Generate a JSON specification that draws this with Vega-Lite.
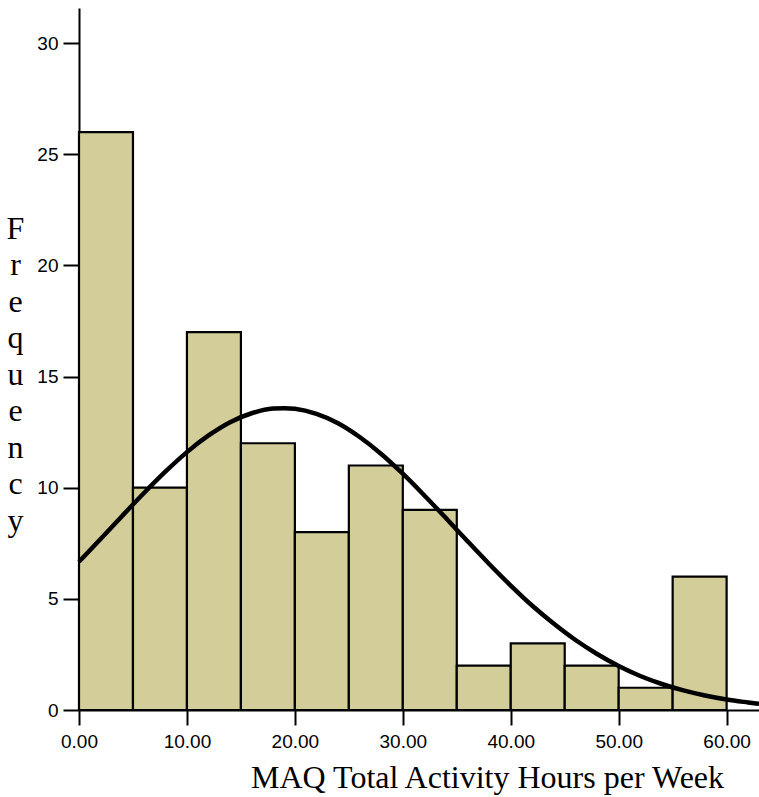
{
  "$schema": "https://vega.github.io/schema/vega-lite/v6.json",
  "width": 680,
  "height": 702,
  "autosize": {"type": "none"},
  "padding": {"left": 79, "top": 8, "right": 0, "bottom": 87},
  "background": "white",
  "config": {
    "view": {"stroke": null},
    "axis": {
      "grid": false,
      "domainColor": "black",
      "domainWidth": 2,
      "tickColor": "black",
      "tickWidth": 2,
      "labelFont": "Liberation Sans",
      "labelFontSize": 19,
      "labelColor": "black",
      "labelFlush": false,
      "titleFont": "Liberation Serif",
      "titleFontSize": 32,
      "titleFontWeight": "normal",
      "titleColor": "black"
    }
  },
  "datasets": {
    "bars": [
      {"lo": 0, "hi": 5, "count": 26},
      {"lo": 5, "hi": 10, "count": 10},
      {"lo": 10, "hi": 15, "count": 17},
      {"lo": 15, "hi": 20, "count": 12},
      {"lo": 20, "hi": 25, "count": 8},
      {"lo": 25, "hi": 30, "count": 11},
      {"lo": 30, "hi": 35, "count": 9},
      {"lo": 35, "hi": 40, "count": 2},
      {"lo": 40, "hi": 45, "count": 3},
      {"lo": 45, "hi": 50, "count": 2},
      {"lo": 50, "hi": 55, "count": 1},
      {"lo": 55, "hi": 60, "count": 6}
    ],
    "curve": [
      {"x": 0, "y": 6.67}, {"x": 2, "y": 7.69}, {"x": 4, "y": 8.73}, {"x": 6, "y": 9.75},
      {"x": 8, "y": 10.72}, {"x": 10, "y": 11.60}, {"x": 12, "y": 12.35}, {"x": 14, "y": 12.95},
      {"x": 16, "y": 13.35}, {"x": 18, "y": 13.56}, {"x": 19, "y": 13.58}, {"x": 20, "y": 13.55},
      {"x": 22, "y": 13.32}, {"x": 24, "y": 12.90}, {"x": 26, "y": 12.28}, {"x": 28, "y": 11.52},
      {"x": 30, "y": 10.63}, {"x": 32, "y": 9.65}, {"x": 34, "y": 8.63}, {"x": 36, "y": 7.59},
      {"x": 38, "y": 6.57}, {"x": 40, "y": 5.60}, {"x": 42, "y": 4.69}, {"x": 44, "y": 3.88},
      {"x": 46, "y": 3.15}, {"x": 48, "y": 2.52}, {"x": 50, "y": 1.98}, {"x": 52, "y": 1.53},
      {"x": 54, "y": 1.17}, {"x": 56, "y": 0.88}, {"x": 58, "y": 0.65}, {"x": 60, "y": 0.47},
      {"x": 62, "y": 0.34}, {"x": 63, "y": 0.28}
    ]
  },
  "layer": [
    {
      "data": {"name": "bars"},
      "mark": {"type": "rect", "fill": "#d3ce99", "stroke": "black", "strokeWidth": 2.2},
      "encoding": {
        "x": {
          "field": "lo", "type": "quantitative",
          "scale": {"domain": [0, 63], "nice": false, "zero": false},
          "axis": {
            "values": [0, 10, 20, 30, 40, 50, 60],
            "format": ".2f",
            "tickSize": 15,
            "labelPadding": 7,
            "title": "MAQ Total Activity Hours per Week",
            "titleAnchor": null,
            "titleAlign": "center",
            "titleBaseline": "alphabetic",
            "titleX": 408,
            "titleY": 77
          }
        },
        "x2": {"field": "hi"},
        "y": {
          "field": "count", "type": "quantitative",
          "scale": {"domain": [0, 31.58], "nice": false},
          "axis": {
            "values": [0, 5, 10, 15, 20, 25, 30],
            "tickSize": 16,
            "labelPadding": 5,
            "title": ["F", "r", "e", "q", "u", "e", "n", "c", "y"],
            "titleAngle": 0,
            "titleAlign": "center",
            "titleBaseline": "alphabetic",
            "titleLineHeight": 36.5,
            "titleX": -64,
            "titleY": 230
          }
        },
        "y2": {"datum": 0}
      }
    },
    {
      "data": {"name": "curve"},
      "mark": {"type": "line", "color": "black", "strokeWidth": 4.5, "interpolate": "monotone"},
      "encoding": {
        "x": {"field": "x", "type": "quantitative"},
        "y": {"field": "y", "type": "quantitative"}
      }
    },
    {
      "mark": {"type": "rule", "color": "black", "strokeWidth": 2.5},
      "encoding": {
        "y": {"datum": 31.58}
      }
    }
  ]
}
